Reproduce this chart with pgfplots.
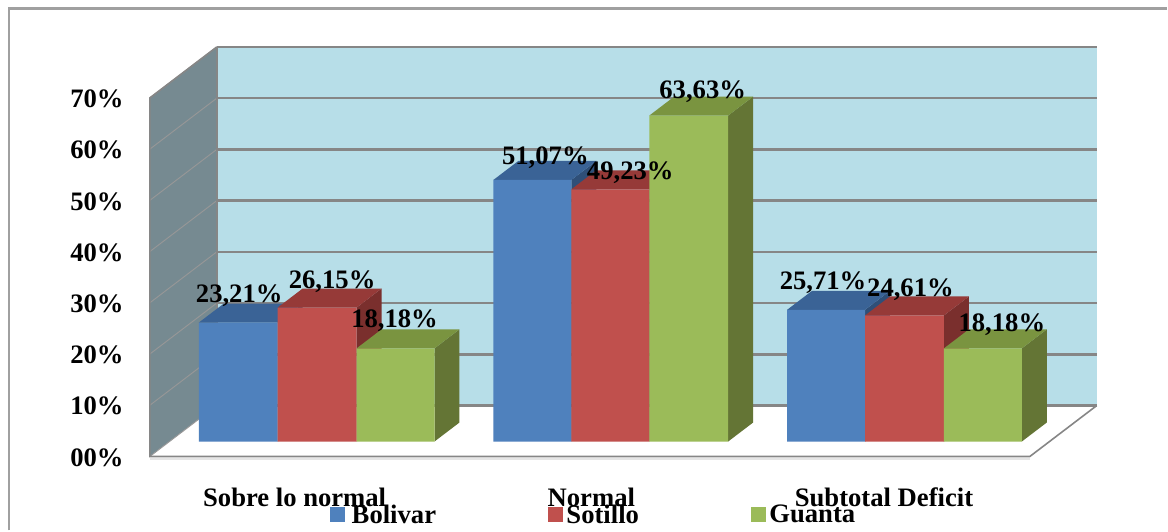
\documentclass[border=0pt]{standalone}
\usepackage{fontspec}
\setmainfont{Liberation Serif}
\usepackage{pgfplots}
\pgfplotsset{compat=1.18}

\definecolor{wallback}{HTML}{B7DEE8}
\definecolor{wallside}{HTML}{768A91}
\definecolor{gridgray}{HTML}{868686}
\definecolor{sidegrid}{HTML}{979797}
\definecolor{floorshade}{HTML}{E5E5E5}
\definecolor{framegray}{HTML}{A0A0A0}
\definecolor{bluef}{HTML}{4F81BD}
\definecolor{bluet}{HTML}{3A6396}
\definecolor{blues}{HTML}{2F4F78}
\definecolor{redf}{HTML}{C0504D}
\definecolor{redt}{HTML}{963A38}
\definecolor{reds}{HTML}{7A2F2D}
\definecolor{greenf}{HTML}{9BBB59}
\definecolor{greent}{HTML}{7A9440}
\definecolor{greens}{HTML}{647535}

% depth of a bar on the floor
\newcommand{\tf}{0.294}
\newcommand{\tb}{0.667}

% one bar: x0, x1, value, colour prefix
\newcommand{\BarBox}[4]{%
  \addplot3[fill=#4s,draw=none,mark=none,forget plot] coordinates
    {(#2,\tf,0) (#2,\tb,0) (#2,\tb,#3) (#2,\tf,#3) (#2,\tf,0)};
  \addplot3[fill=#4t,draw=none,mark=none,forget plot] coordinates
    {(#1,\tf,#3) (#2,\tf,#3) (#2,\tb,#3) (#1,\tb,#3) (#1,\tf,#3)};
  \addplot3[fill=#4f,draw=none,mark=none,forget plot] coordinates
    {(#1,\tf,0) (#2,\tf,0) (#2,\tf,#3) (#1,\tf,#3) (#1,\tf,0)};
}
% value label: x of the bar centre, value, horizontal and vertical offset in px
\newcommand{\BarLabel}[4]{%
  \node[font=\chartfont,inner sep=0pt] at (axis cs:#1,\tf,#2)
    [xshift=#3*0.75pt,yshift=#4*0.75pt-1.1pt]
    {\pgfmathprintnumber[fixed,fixed zerofill,precision=2,use comma,assume math mode=true]{#2}\%};
}
% one horizontal grid level across side wall and back wall
\newcommand{\GridLevel}[1]{%
  \addplot3[sidegrid,line width=0.7pt,mark=none,forget plot] coordinates
    {(150,0,#1) (150,1,#1)};
  \addplot3[gridgray,line width=1.9pt,mark=none,forget plot] coordinates
    {(150,1,#1) (1031,1,#1)};
}
\newcommand{\chartfont}{\fontsize{20}{21}\selectfont\bfseries}

\begin{document}
\begin{tikzpicture}
\begin{axis}[
  x={(0.75pt,0pt)}, y={(50.25pt,38.25pt)}, z={(0pt,3.846pt)},
  xmin=150, xmax=1031, ymin=0, ymax=1, zmin=0, zmax=70,
  clip=false,
  axis lines*=left,
  axis line style={draw=none},
  tick style={draw=none},
  ytick=\empty,
  ztick={0,10,20,30,40,50,60,70},
  zticklabels={00\%,10\%,20\%,30\%,40\%,50\%,60\%,70\%},
  xtick={295,592,885},
  xticklabels={Sobre lo normal,Normal,Subtotal Deficit},
  ticklabel style={font=\chartfont},
  zticklabel style={anchor=east,inner sep=0pt,xshift=-19.5pt,yshift=-0.75pt},
  xticklabel style={anchor=center,inner sep=0pt,yshift=-30.5pt},
  legend columns=3,
  legend cell align=left,
  legend style={draw=none,fill=none,font=\chartfont,inner sep=0pt,
    at={(axis cs:330,0,-11.4)},anchor=west,
    /tikz/column 1/.style={column sep=3.5pt},
    /tikz/column 2/.style={column sep=82pt},
    /tikz/column 3/.style={column sep=1pt},
    /tikz/column 4/.style={column sep=82pt},
    /tikz/column 5/.style={column sep=1pt}},
  legend image code/.code={\fill[#1] (0pt,-5pt) rectangle (10.5pt,5.5pt);},
]
  % page extent and frame
  \path (axis cs:0,0,-14.43) rectangle (axis cs:1168,0,89.12);
  \draw[framegray,line width=2pt] (axis cs:9,0,-14.43) -- (axis cs:9,0,87.4) -- (axis cs:1168,0,87.4);

  % walls
  \addplot3[fill=wallback,draw=none,mark=none,forget plot] coordinates
    {(150,1,0) (1031,1,0) (1031,1,70) (150,1,70) (150,1,0)};
  \addplot3[fill=wallside,draw=none,mark=none,forget plot] coordinates
    {(150,0,0) (150,1,0) (150,1,70) (150,0,70) (150,0,0)};
  % floor
  \addplot3[fill=white,draw=none,mark=none,forget plot] coordinates
    {(150,0,0) (1031,0,0) (1031,1,0) (150,1,0) (150,0,0)};

  \GridLevel{0}\GridLevel{10}\GridLevel{20}\GridLevel{30}
  \GridLevel{40}\GridLevel{50}\GridLevel{60}\GridLevel{70}

  % soft edge under the floor, then the outline of side wall and floor
  \addplot3[floorshade,line width=1.5pt,mark=none,forget plot] coordinates
    {(150,0,-0.45) (1031,0,-0.45)};
  \addplot3[gridgray,line width=1.2pt,mark=none,forget plot] coordinates
    {(150,1,70) (150,0,70) (150,0,0) (1031,0,0) (1031,1,0)};
  \addplot3[gridgray,line width=1.2pt,mark=none,forget plot] coordinates
    {(150,1,70) (150,1,0)};

  % Sobre lo normal
  \BarBox{179.3}{258.3}{23.21}{blue}
  \BarBox{258.3}{337.3}{26.15}{red}
  \BarBox{337.3}{415.3}{18.18}{green}
  % Normal
  \BarBox{474.3}{552.3}{51.07}{blue}
  \BarBox{552.3}{630.3}{49.23}{red}
  \BarBox{630.3}{709.3}{63.63}{green}
  % Subtotal Deficit
  \BarBox{768.3}{846.3}{25.71}{blue}
  \BarBox{846.3}{925.3}{24.61}{red}
  \BarBox{925.3}{1003.3}{18.18}{green}

  \BarLabel{218.8}{23.21}{1}{28}
  \BarLabel{297.8}{26.15}{15}{27}
  \BarLabel{376.3}{18.18}{-1}{29}
  \BarLabel{513.3}{51.07}{13}{24}
  \BarLabel{591.3}{49.23}{20}{18}
  \BarLabel{669.8}{63.63}{14}{25}
  \BarLabel{807.3}{25.71}{-3}{29}
  \BarLabel{885.8}{24.61}{6}{27}
  \BarLabel{964.3}{18.18}{19}{25}

  \addlegendimage{bluef}
  \addlegendentry{Bolivar}
  \addlegendimage{redf}
  \addlegendentry{Sotillo}
  \addlegendimage{greenf}
  \addlegendentry{Guanta}
\end{axis}
\end{tikzpicture}
\end{document}
